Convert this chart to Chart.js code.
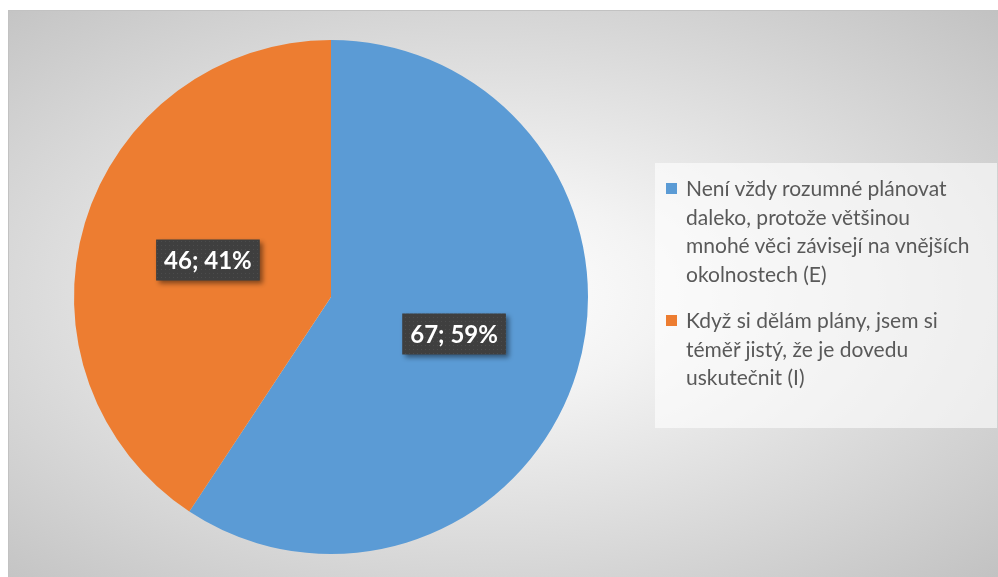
<!DOCTYPE html>
<html>
<head>
<meta charset="utf-8">
<script src="https://cdn.jsdelivr.net/npm/chart.js@4/dist/chart.umd.min.js"></script>
<style>
  html, body { margin: 0; padding: 0; background: #ffffff; }
  body { width: 998px; height: 577px; position: relative; overflow: hidden; }
  #bg { position: absolute; left: 8px; top: 10px; width: 990px; height: 567px;
        border-top: 1px solid #c2c2c2; border-left: 1px solid #c2c2c2; box-sizing: border-box;
        background: radial-gradient(ellipse farthest-corner at 48% 50%, #ffffff 0%, #f3f3f3 25%, #c2c2c2 100%); }
  #wrap { position: absolute; left: 0; top: 0; width: 998px; height: 577px; }
  #legend { position: absolute; left: 655px; top: 163px; width: 342px; height: 265px;
            background: rgba(255,255,255,0.6); font-family: Lato, "Open Sans", sans-serif;
            font-size: 21px; color: #595959; box-sizing: border-box; padding-top: 11px; }
  .item { position: relative; padding-left: 31px; line-height: 28.5px; margin-bottom: 18px; }
  .item .sw { position: absolute; left: 11px; top: 9px; width: 11px; height: 11px; }
</style>
</head>
<body>
<div id="bg"></div>
<div id="wrap"><canvas id="c" width="998" height="577"></canvas></div>
<div id="legend"></div>
<script>
const categories = [
  "Není vždy rozumné plánovat<br>daleko, protože většinou<br>mnohé věci závisejí na vnějších<br>okolnostech (E)",
  "Když si dělám plány, jsem si<br>téměř jistý, že je dovedu<br>uskutečnit (I)"
];
const values = [67, 46];
const colors = ["#5B9BD5", "#ED7D31"];

const total = values.reduce((a, b) => a + b, 0);
const labelTexts = values.map(v => v + "; " + Math.round(v / total * 100) + "%");

// HTML legend
const leg = document.getElementById('legend');
categories.forEach((c, i) => {
  const d = document.createElement('div');
  d.className = 'item';
  d.innerHTML = '<span class="sw" style="background:' + colors[i] + '"></span>' + c;
  leg.appendChild(d);
});

function makePattern(ctx) {
  const p = document.createElement('canvas');
  p.width = 4; p.height = 4;
  const pc = p.getContext('2d');
  pc.fillStyle = '#3f3f3f'; pc.fillRect(0, 0, 4, 4);
  pc.fillStyle = '#4c4c4c'; pc.fillRect(1, 1, 1, 1);
  return ctx.createPattern(p, 'repeat');
}

const labelPlugin = {
  id: 'boxLabels',
  afterDatasetsDraw(chart) {
    const ctx = chart.ctx;
    const meta = chart.getDatasetMeta(0);
    const pat = makePattern(ctx);
    ctx.save();
    ctx.font = 'bold 24px Lato, "Open Sans", sans-serif';
    meta.data.forEach((arc, i) => {
      const pos = arc.tooltipPosition();
      const txt = labelTexts[i];
      const w = ctx.measureText(txt).width + 16;
      const h = 41;
      const x = pos.x - w / 2, y = pos.y - h / 2;
      ctx.save();
      ctx.shadowColor = 'rgba(0,0,0,0.45)';
      ctx.shadowBlur = 5;
      ctx.shadowOffsetX = 3;
      ctx.shadowOffsetY = 3;
      ctx.fillStyle = pat;
      ctx.fillRect(x, y, w, h);
      ctx.restore();
      ctx.fillStyle = '#ffffff';
      ctx.textAlign = 'center';
      ctx.textBaseline = 'middle';
      ctx.fillText(txt, pos.x, pos.y + 1);
    });
    ctx.restore();
  }
};

new Chart(document.getElementById('c'), {
  type: 'pie',
  data: {
    labels: categories.map(c => c.replace(/<br>/g, ' ')),
    datasets: [{ data: values, backgroundColor: colors, borderWidth: 0 }]
  },
  options: {
    responsive: false,
    animation: false,
    layout: { padding: { left: 74, right: 410, top: 40, bottom: 23 } },
    plugins: { legend: { display: false }, tooltip: { enabled: false } }
  },
  plugins: [labelPlugin]
});
</script>
</body>
</html>
